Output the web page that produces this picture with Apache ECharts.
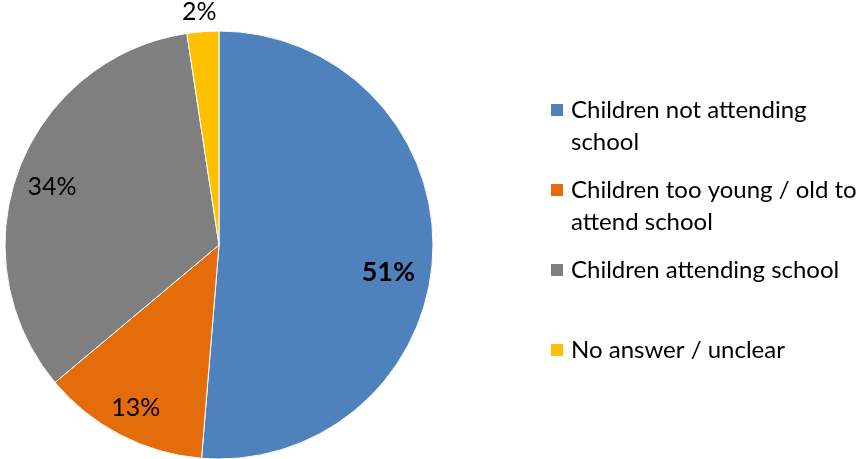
<!DOCTYPE html>
<html>
<head>
<meta charset="utf-8">
<script src="https://cdn.jsdelivr.net/npm/echarts@6/dist/echarts.min.js"></script>
<style>
  html, body { margin: 0; padding: 0; background: #fff; }
  #chart { width: 863px; height: 459px; }
</style>
</head>
<body>
<div id="chart"></div>
<script>
const categories = [
  "Children not attending school",
  "Children too young / old to attend school",
  "Children attending school",
  "No answer / unclear",
];
// blank first line keeps the icon on the first text line
const legendLabels = [
  "\nChildren not attending\nschool",
  "\nChildren too young / old to\nattend school",
  "\nChildren attending school\n ",
  "\nNo answer / unclear\n ",
];
// labels show them rounded
const shares = [51.3, 12.6, 33.7, 2.4];
const colors = ["#4F81BD", "#E46C0A", "#7F7F7F", "#FFC000"];

const FONT = "Lato";
const R = 214;
const center = [219, 245];

// nudges so the labels sit where Excel put them
const labelOffset = [
  [-7, 20],
  [-2, 6],
  [-2, 4],
  [-2, 0],
];

const chart = echarts.init(document.getElementById("chart"));

const sliceData = categories.map((name, i) => ({
  name,
  value: shares[i],
  itemStyle: { color: colors[i] },
}));

const labelStyle = {
  show: true,
  position: "inside",
  formatter: (p) => `${Math.round(p.value)}%`,
  fontFamily: FONT,
  fontSize: 25,
  color: "#000",
};

const option = {
  backgroundColor: "#fff",
  animation: false,
  legend: {
    orient: "vertical",
    left: 549,
    top: 62,
    padding: 0,
    itemGap: -16,
    itemWidth: 14,
    itemHeight: 14,
    icon: "rect",
    selectedMode: false,
    data: categories.map((name, i) => ({
      name,
      itemStyle: { color: colors[i] },
    })),
    formatter: (name) => legendLabels[categories.indexOf(name)],
    textStyle: {
      fontFamily: FONT,
      fontSize: 24,
      lineHeight: 32,
      color: "#000",
      padding: [0, 0, 0, 2],
    },
  },
  series: [
    {
      name: "share",
      type: "pie",
      center,
      radius: [0, R],
      startAngle: 90,
      clockwise: true,
      silent: true,
      label: { show: false },
      labelLine: { show: false },
      itemStyle: { borderColor: "#fff", borderWidth: 1 },
      data: sliceData,
    },
    {
      // inner labels
      name: "labels",
      type: "pie",
      center,
      radius: [133, R],
      startAngle: 90,
      silent: true,
      itemStyle: { color: "transparent" },
      labelLine: { show: false },
      label: labelStyle,
      data: categories.map((name, i) => ({
        name,
        value: shares[i],
        label: {
          show: i < 3,
          offset: labelOffset[i],
          fontWeight: i === 0 ? "bold" : "normal",
          fontSize: i === 0 ? 27 : 25,
        },
      })),
    },
    {
      // outer label for the thin slice
      name: "outerLabels",
      type: "pie",
      center,
      radius: [R, 248],
      startAngle: 90,
      silent: true,
      itemStyle: { color: "transparent" },
      labelLine: { show: false },
      label: labelStyle,
      data: categories.map((name, i) => ({
        name,
        value: shares[i],
        label: { show: i === 3, offset: labelOffset[3] },
      })),
    },
  ],
};

chart.setOption(option);
</script>
</body>
</html>
